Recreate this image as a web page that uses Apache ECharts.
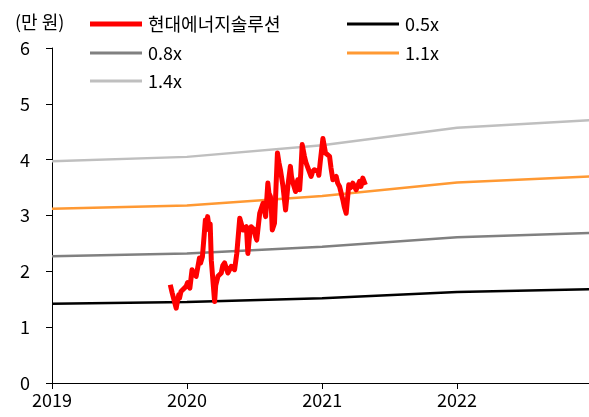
<!DOCTYPE html>
<html>
<head>
<meta charset="utf-8">
<script src="https://cdn.jsdelivr.net/npm/echarts@6/dist/echarts.min.js"></script>
<style>html,body{margin:0;padding:0;background:#fff;}#c{width:589px;height:417px;}</style>
</head>
<body>
<div id="c"></div>
<script>
const bandDates = ['2019-01-01','2020-01-01','2021-01-01','2022-01-01','2022-12-31'];
const band05 = [1.42, 1.45, 1.52, 1.63, 1.68];
const band08 = [2.27, 2.32, 2.44, 2.61, 2.69];
const band11 = [3.12, 3.18, 3.35, 3.59, 3.70];
const band14 = [3.97, 4.05, 4.26, 4.57, 4.71];

const stockDates = ['2019-11-17','2019-11-22','2019-12-03','2019-12-06','2019-12-10','2019-12-12','2019-12-16','2019-12-30','2020-01-03','2020-01-09','2020-01-15','2020-01-20','2020-01-26','2020-02-04','2020-02-07','2020-02-12','2020-02-20','2020-02-23','2020-02-26','2020-03-02','2020-03-04','2020-03-07','2020-03-16','2020-03-19','2020-03-25','2020-04-03','2020-04-07','2020-04-12','2020-04-21','2020-04-30','2020-05-09','2020-05-15','2020-05-23','2020-06-01','2020-06-10','2020-06-14','2020-06-18','2020-06-23','2020-07-02','2020-07-05','2020-07-08','2020-07-16','2020-07-25','2020-08-01','2020-08-07','2020-08-10','2020-08-14','2020-08-17','2020-08-19','2020-08-25','2020-09-02','2020-09-06','2020-09-10','2020-09-17','2020-09-24','2020-09-27','2020-09-30','2020-10-07','2020-10-10','2020-10-14','2020-10-21','2020-10-24','2020-10-27','2020-11-01','2020-11-04','2020-11-08','2020-11-14','2020-11-18','2020-11-23','2020-12-02','2020-12-06','2020-12-11','2020-12-20','2020-12-23','2020-12-27','2021-01-03','2021-01-10','2021-01-21','2021-01-25','2021-01-30','2021-02-08','2021-02-12','2021-02-17','2021-02-26','2021-03-02','2021-03-07','2021-03-14','2021-03-19','2021-03-25','2021-04-03','2021-04-12','2021-04-16','2021-04-21','2021-04-28'];
const stockValues = [1.76,1.62,1.34,1.45,1.58,1.52,1.64,1.73,1.80,1.70,2.03,1.95,1.91,2.24,2.15,2.26,2.92,2.75,2.98,2.74,2.85,2.20,1.46,1.75,1.91,1.97,2.10,2.15,1.97,2.09,2.03,2.32,2.95,2.74,2.80,2.32,2.60,2.80,2.74,2.62,2.56,3.04,3.22,2.98,3.58,3.40,3.34,3.05,2.74,2.86,4.12,3.95,3.82,3.52,3.10,3.30,3.52,3.88,3.70,3.58,3.43,3.55,3.64,3.46,3.75,4.27,4.06,3.95,3.94,3.70,3.78,3.82,3.79,3.72,3.97,4.38,4.12,4.06,3.85,3.64,3.70,3.58,3.52,3.28,3.15,3.04,3.55,3.50,3.58,3.46,3.61,3.52,3.67,3.55];

const yTicks = [0,1,2,3,4,5,6];
const unitLabel = '(만 원)';
const names = ['현대에너지솔루션','0.5x','0.8x','1.1x','1.4x'];

const FONT = '"Noto Sans CJK KR", "Noto Sans", sans-serif';
const pair = (d, v) => d.map((x, i) => [x, v[i]]);

const chart = echarts.init(document.getElementById('c'), null, {renderer: 'canvas'});

function legendAt(name, left, top, h) {
  return {
    data: [name], left: left, top: top, icon: 'rect', itemWidth: 52, itemHeight: h, itemGap: 0,
    textStyle: {fontFamily: FONT, fontSize: 18, color: '#000', padding: [0, 0, 0, 1]},
    selectedMode: false, padding: 0
  };
}

chart.setOption({
  animation: false,
  backgroundColor: '#fff',
  textStyle: {fontFamily: FONT},
  graphic: [{type: 'text', left: 15, top: 13, style: {text: unitLabel, fontFamily: FONT, fontSize: 18, fill: '#000'}}],
  legend: [
    legendAt(names[0], 90, 15, 5),
    legendAt(names[1], 347, 15, 3),
    legendAt(names[2], 90, 44, 3),
    legendAt(names[3], 347, 44, 3),
    legendAt(names[4], 90, 72, 3)
  ],
  grid: {left: 52, right: 0, top: 48, bottom: 34},
  xAxis: {
    type: 'time', min: '2019-01-01', max: '2022-12-24',
    minInterval: 365 * 86400000, maxInterval: 366 * 86400000,
    axisLine: {lineStyle: {color: '#000', width: 1}},
    axisTick: {show: true, length: 6, lineStyle: {color: '#000'}},
    axisLabel: {formatter: '{yyyy}', fontFamily: FONT, fontSize: 18, color: '#000', margin: 8, showMaxLabel: false, showMinLabel: true},
    splitLine: {show: false}
  },
  yAxis: {
    type: 'value', min: 0, max: 6, interval: 1,
    axisLine: {show: true, lineStyle: {color: '#000', width: 1}},
    axisTick: {show: true, length: 6, lineStyle: {color: '#000'}},
    axisLabel: {fontFamily: FONT, fontSize: 18, color: '#000', margin: 22},
    splitLine: {show: false}
  },
  series: [
    {name: names[1], type: 'line', data: pair(bandDates, band05), symbol: 'none', color: '#000000', lineStyle: {width: 2.5}},
    {name: names[2], type: 'line', data: pair(bandDates, band08), symbol: 'none', color: '#808080', lineStyle: {width: 2.5}},
    {name: names[3], type: 'line', data: pair(bandDates, band11), symbol: 'none', color: '#FF9933', lineStyle: {width: 2.5}},
    {name: names[4], type: 'line', data: pair(bandDates, band14), symbol: 'none', color: '#BFBFBF', lineStyle: {width: 2.5}},
    {name: names[0], type: 'line', data: pair(stockDates, stockValues), symbol: 'none', color: '#FF0000', lineStyle: {width: 5, join: 'round'}}
  ]
});
</script>
</body>
</html>
